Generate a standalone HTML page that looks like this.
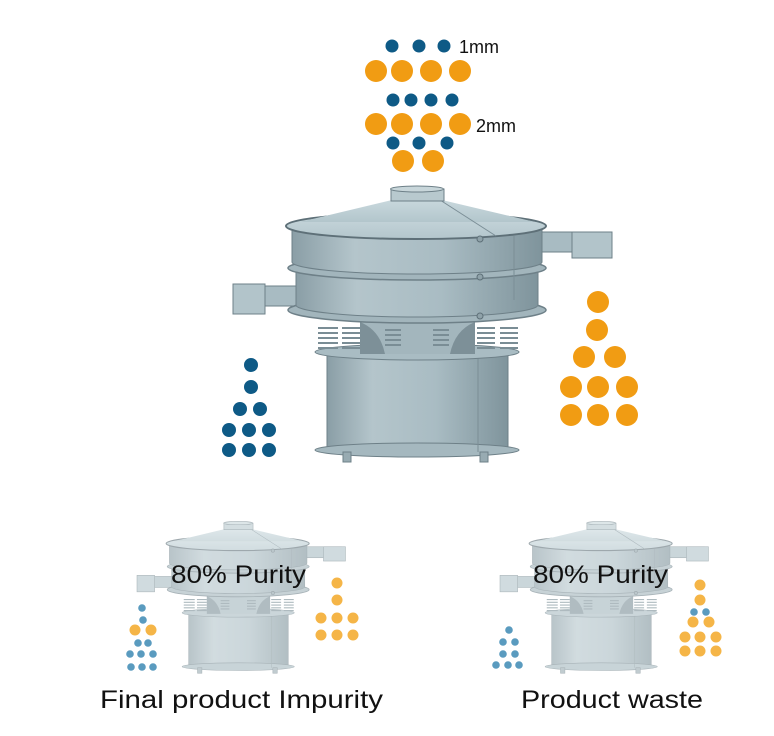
<!DOCTYPE html>
<html><head><meta charset="utf-8"><style>
html,body{margin:0;padding:0;background:#fff;}
svg{display:block;}
text{font-family:"Liberation Sans",sans-serif;fill:#111;}
</style></head><body>
<svg width="774" height="736" viewBox="0 0 774 736" xmlns="http://www.w3.org/2000/svg">
<defs>
<linearGradient id="cyl" x1="0" x2="1" y1="0" y2="0">
<stop offset="0" stop-color="#8a9ea6"/><stop offset="0.25" stop-color="#b4c5cb"/><stop offset="0.6" stop-color="#a9bcc3"/><stop offset="1" stop-color="#7f949c"/>
</linearGradient>
<linearGradient id="cone" x1="0" x2="0" y1="0" y2="1">
<stop offset="0" stop-color="#c9d8dd"/><stop offset="1" stop-color="#b3c6cc"/>
</linearGradient>
<g id="mach">
<rect x="535" y="232" width="70" height="20" fill="#a8bbc2" stroke="#6e8088" stroke-width="1"/>
<rect x="572" y="232" width="40" height="26" fill="#b2c4ca" stroke="#6e8088" stroke-width="1"/>
<rect x="240" y="286" width="60" height="20" fill="#a8bbc2" stroke="#6e8088" stroke-width="1"/>
<rect x="233" y="284" width="32" height="30" fill="#b2c4ca" stroke="#6e8088" stroke-width="1"/>
<rect x="327" y="355" width="181" height="95" fill="url(#cyl)" stroke="#6e8088"/>
<ellipse cx="417" cy="450" rx="102" ry="7" fill="#a5b8bf" stroke="#6e8088"/>
<rect x="343" y="452" width="8" height="10" fill="#98abb2" stroke="#6e8088"/>
<rect x="480" y="452" width="8" height="10" fill="#98abb2" stroke="#6e8088"/>
<line x1="478" y1="358" x2="478" y2="452" stroke="#7b8e96"/>
<ellipse cx="417" cy="352" rx="102" ry="8" fill="#a9bcc3" stroke="#6e8088"/>
<rect x="360" y="322" width="115" height="32" fill="#a3b6bd"/>
<path d="M360 322 Q380 330 385 354 L360 354 Z" fill="#7d9098"/>
<path d="M475 322 Q455 330 450 354 L475 354 Z" fill="#7d9098"/>
<g stroke="#7a8d95" stroke-width="2" fill="none">
<path d="M318 328h20M318 333h20M318 338h20M318 343h20M318 348h20"/>
<path d="M342 328h18M342 333h18M342 338h18M342 343h18M342 348h18"/>
<path d="M385 330h16M385 335h16M385 340h16M385 345h16"/>
<path d="M433 330h16M433 335h16M433 340h16M433 345h16"/>
<path d="M477 328h18M477 333h18M477 338h18M477 343h18M477 348h18"/>
<path d="M500 328h18M500 333h18M500 338h18M500 343h18M500 348h18"/>
</g>
<ellipse cx="417" cy="310" rx="129" ry="13" fill="#a2b5bc" stroke="#6e8088" stroke-width="1.5"/>
<path d="M296 270 V305 A121 12 0 0 0 538 305 V270 Z" fill="url(#cyl)" stroke="#6e8088"/>
<ellipse cx="417" cy="268" rx="129" ry="12" fill="#a2b5bc" stroke="#6e8088" stroke-width="1.5"/>
<path d="M292 228 V262 A125 12 0 0 0 542 262 V228 Z" fill="url(#cyl)" stroke="#6e8088"/>
<line x1="514" y1="236" x2="514" y2="300" stroke="#7b8e96"/>
<ellipse cx="416" cy="226" rx="130" ry="13" fill="url(#cone)" stroke="#5e7078" stroke-width="2"/>
<path d="M300 222 L392 200 L442 200 L535 222 Z" fill="url(#cone)"/>
<line x1="440" y1="200" x2="496" y2="236" stroke="#7b8e96"/>
<rect x="391" y="189" width="53" height="12" fill="#b8c9ce" stroke="#6e8088"/>
<ellipse cx="417" cy="189" rx="26.5" ry="3" fill="#c8d6da" stroke="#6e8088"/>
<circle cx="480" cy="239" r="3" fill="#8fa2a9" stroke="#5e7078"/>
<circle cx="480" cy="277" r="3" fill="#8fa2a9" stroke="#5e7078"/>
<circle cx="480" cy="316" r="3" fill="#8fa2a9" stroke="#5e7078"/>
</g>
</defs>

<g fill="#0e5a86">
<circle cx="392" cy="46" r="6.5"/><circle cx="419" cy="46" r="6.5"/><circle cx="444" cy="46" r="6.5"/>
<circle cx="393" cy="100" r="6.5"/><circle cx="411" cy="100" r="6.5"/><circle cx="431" cy="100" r="6.5"/><circle cx="452" cy="100" r="6.5"/>
<circle cx="393" cy="143" r="6.5"/><circle cx="419" cy="143" r="6.5"/><circle cx="447" cy="143" r="6.5"/>
</g>
<g fill="#f19c13">
<circle cx="376" cy="71" r="11"/><circle cx="402" cy="71" r="11"/><circle cx="431" cy="71" r="11"/><circle cx="460" cy="71" r="11"/>
<circle cx="376" cy="124" r="11"/><circle cx="402" cy="124" r="11"/><circle cx="431" cy="124" r="11"/><circle cx="460" cy="124" r="11"/>
<circle cx="403" cy="161" r="11"/><circle cx="433" cy="161" r="11"/>
</g>
<text x="459" y="53" font-size="18" fill="#333">1mm</text>
<text x="476" y="132" font-size="18" fill="#333">2mm</text>

<use href="#mach"/>

<g fill="#0e5a86">
<circle cx="251" cy="365" r="7"/><circle cx="251" cy="387" r="7"/>
<circle cx="240" cy="409" r="7"/><circle cx="260" cy="409" r="7"/>
<circle cx="229" cy="430" r="7"/><circle cx="249" cy="430" r="7"/><circle cx="269" cy="430" r="7"/>
<circle cx="229" cy="450" r="7"/><circle cx="249" cy="450" r="7"/><circle cx="269" cy="450" r="7"/>
</g>
<g fill="#f19c13">
<circle cx="598" cy="302" r="11"/><circle cx="597" cy="330" r="11"/>
<circle cx="584" cy="357" r="11"/><circle cx="615" cy="357" r="11"/>
<circle cx="571" cy="387" r="11"/><circle cx="598" cy="387" r="11"/><circle cx="627" cy="387" r="11"/>
<circle cx="571" cy="415" r="11"/><circle cx="598" cy="415" r="11"/><circle cx="627" cy="415" r="11"/>
</g>

<g opacity="0.6">
<use href="#mach" transform="translate(8.85,419.15) scale(0.55)"/>
<use href="#mach" transform="translate(371.85,419.15) scale(0.55)"/>
</g>

<g fill="#5a9bbf">
<circle cx="142" cy="608" r="3.8"/><circle cx="143" cy="620" r="3.8"/>
<circle cx="138" cy="643" r="3.8"/><circle cx="148" cy="643" r="3.8"/>
<circle cx="130" cy="654" r="3.8"/><circle cx="141" cy="654" r="3.8"/><circle cx="153" cy="654" r="3.8"/>
<circle cx="131" cy="667" r="3.8"/><circle cx="142" cy="667" r="3.8"/><circle cx="153" cy="667" r="3.8"/>
<circle cx="509" cy="630" r="3.8"/><circle cx="503" cy="642" r="3.8"/><circle cx="515" cy="642" r="3.8"/>
<circle cx="503" cy="654" r="3.8"/><circle cx="515" cy="654" r="3.8"/>
<circle cx="496" cy="665" r="3.8"/><circle cx="508" cy="665" r="3.8"/><circle cx="519" cy="665" r="3.8"/>
<circle cx="694" cy="612" r="3.8"/><circle cx="706" cy="612" r="3.8"/>
</g>
<g fill="#f5b547">
<circle cx="135" cy="630" r="5.5"/><circle cx="151" cy="630" r="5.5"/>
<circle cx="337" cy="583" r="5.5"/><circle cx="337" cy="600" r="5.5"/>
<circle cx="321" cy="618" r="5.5"/><circle cx="337" cy="618" r="5.5"/><circle cx="353" cy="618" r="5.5"/>
<circle cx="321" cy="635" r="5.5"/><circle cx="337" cy="635" r="5.5"/><circle cx="353" cy="635" r="5.5"/>
<circle cx="700" cy="585" r="5.5"/><circle cx="700" cy="600" r="5.5"/>
<circle cx="693" cy="622" r="5.5"/><circle cx="709" cy="622" r="5.5"/>
<circle cx="685" cy="637" r="5.5"/><circle cx="700" cy="637" r="5.5"/><circle cx="716" cy="637" r="5.5"/>
<circle cx="685" cy="651" r="5.5"/><circle cx="700" cy="651" r="5.5"/><circle cx="716" cy="651" r="5.5"/>
</g>

<text x="171" y="583" font-size="25" textLength="135" lengthAdjust="spacingAndGlyphs">80% Purity</text>
<text x="533" y="583" font-size="25" textLength="135" lengthAdjust="spacingAndGlyphs">80% Purity</text>
<text x="100" y="708" font-size="25" textLength="283" lengthAdjust="spacingAndGlyphs">Final product Impurity</text>
<text x="521" y="708" font-size="25" textLength="182" lengthAdjust="spacingAndGlyphs">Product waste</text>
</svg>
</body></html>
